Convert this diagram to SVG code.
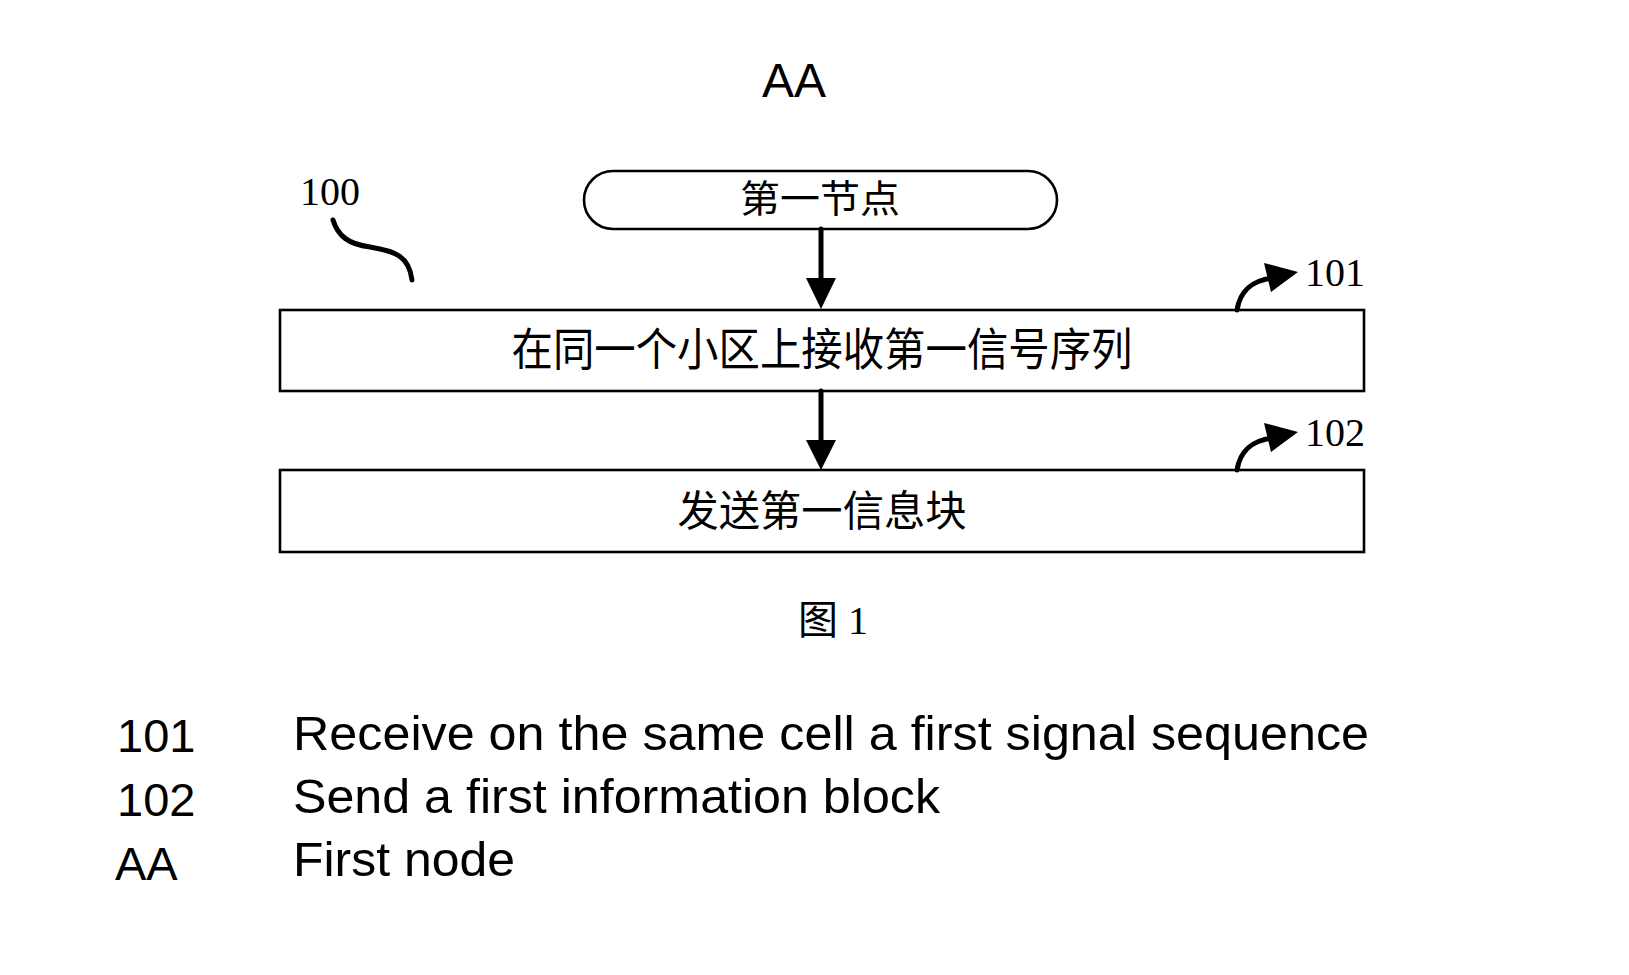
<svg xmlns="http://www.w3.org/2000/svg" width="1629" height="975" viewBox="0 0 1629 975">
<style>
.box{fill:#fff;stroke:#000;stroke-width:2.6}
.cjk{font-family:"Noto Sans CJK SC","Noto Sans CJK JP",sans-serif;fill:#000}
.ser{font-family:"Liberation Serif","Noto Sans CJK SC",serif;fill:#000}
.sans{font-family:"Liberation Sans",Arial,sans-serif;fill:#000}
.ln{fill:none;stroke:#000;stroke-width:5;stroke-linecap:round}
</style>
<rect width="1629" height="975" fill="#fff"/>
<text class="sans" x="794" y="97" font-size="48" text-anchor="middle">AA</text>
<g id="label100">
<text class="ser" x="300" y="205" font-size="40">100</text>
<path class="ln" d="M333,220 C338,236 348,244 370,247 C395,251 409,256 412,280"/>
</g>
<g id="start">
<rect class="box" x="584" y="171" width="473" height="58" rx="29" ry="29"/>
<text class="cjk" x="820" y="212" font-size="38" text-anchor="middle" textLength="160" lengthAdjust="spacingAndGlyphs">第一节点</text>
</g>
<g id="step101">
<rect class="box" x="280" y="310" width="1084" height="81"/>
<text class="cjk" x="822" y="366" font-size="45" text-anchor="middle" textLength="621" lengthAdjust="spacingAndGlyphs">在同一个小区上接收第一信号序列</text>
<text class="ser" x="1305" y="286" font-size="40">101</text>
</g>
<g id="step102">
<rect class="box" x="280" y="470" width="1084" height="82"/>
<text class="cjk" x="822" y="526" font-size="42" text-anchor="middle" textLength="289" lengthAdjust="spacingAndGlyphs">发送第一信息块</text>
<text class="ser" x="1305" y="446" font-size="40">102</text>
</g>
<g id="connectors">
<line class="ln" x1="821" y1="229" x2="821" y2="282" stroke-linecap="butt"/>
<polygon points="806,278 836,278 821,309"/>
<line class="ln" x1="821" y1="391" x2="821" y2="443" stroke-linecap="butt"/>
<polygon points="806,440 836,440 821,470"/>
<path class="ln" d="M1237,310 C1240,292 1250,281 1272,278" stroke-linecap="butt"/>
<polygon points="1264,263 1298,272 1271,292"/>
<path class="ln" d="M1237,470 C1240,452 1250,441 1272,438" stroke-linecap="butt"/>
<polygon points="1264,423 1298,432 1271,452"/>
</g>
<text class="ser" x="798" y="634" font-size="40">图 1</text>
<g id="legend">
<text class="sans" x="117" y="752" font-size="47">101</text>
<text class="sans" x="293" y="750" font-size="49" textLength="1076" lengthAdjust="spacingAndGlyphs">Receive on the same cell a first signal sequence</text>
<text class="sans" x="117" y="816" font-size="47">102</text>
<text class="sans" x="293" y="813" font-size="49" textLength="647" lengthAdjust="spacingAndGlyphs">Send a first information block</text>
<text class="sans" x="115" y="880" font-size="47">AA</text>
<text class="sans" x="293" y="876" font-size="49" textLength="222" lengthAdjust="spacingAndGlyphs">First node</text>
</g>
</svg>
